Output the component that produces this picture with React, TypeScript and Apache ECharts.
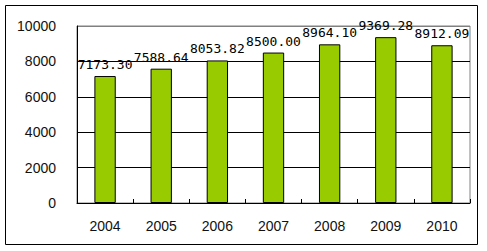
import React, { useEffect, useRef } from "react";
import * as echarts from "echarts";

const years = ["2004", "2005", "2006", "2007", "2008", "2009", "2010"];
const values = [7173.3, 7588.64, 8053.82, 8500.0, 8964.1, 9369.28, 8912.09];
const yTicks = { min: 0, max: 10000, interval: 2000 };

export default function App() {
  const ref = useRef<HTMLDivElement>(null);
  useEffect(() => {
    document.body.style.margin = "0";
    const chart = echarts.init(ref.current!, null, { renderer: "svg" });
    chart.setOption({
      animation: false,
      backgroundColor: "#ffffff",
      graphic: [
        {
          type: "rect",
          shape: { x: 5.5, y: 5.5, width: 472, height: 239 },
          style: { fill: "none", stroke: "#000", lineWidth: 1 },
          silent: true,
        },
      ],
      grid: {
        left: 77,
        right: 17,
        top: 26,
        bottom: 48,
        show: true,
        borderColor: "#808080",
        borderWidth: 1,
        backgroundColor: "transparent",
      },
      xAxis: {
        type: "category",
        data: years,
        boundaryGap: true,
        axisLine: { show: true, lineStyle: { color: "#000", width: 1 } },
        axisTick: { show: true, inside: true, length: 4, lineStyle: { color: "#000" } },
        axisLabel: {
          margin: 16,
          color: "#111",
          fontFamily: "Liberation Sans",
          fontSize: 14,
        },
      },
      yAxis: {
        type: "value",
        min: yTicks.min,
        max: yTicks.max,
        interval: yTicks.interval,
        axisLine: { show: true, lineStyle: { color: "#000", width: 1 } },
        axisTick: { show: false },
        splitLine: {
          show: true,
          lineStyle: {
            color: ["#000", "#000", "#000", "#000", "#000", "#808080"],
            width: 1,
          },
        },
        axisLabel: {
          margin: 21,
          color: "#111",
          fontFamily: "Liberation Sans",
          fontSize: 14,
          formatter: (v: number) => String(v),
        },
      },
      series: [
        {
          type: "bar",
          data: values,
          barWidth: "38%",
          itemStyle: { color: "#99cc00", borderColor: "#000", borderWidth: 1 },
          label: {
            show: true,
            position: "top",
            distance: 5,
            color: "#000",
            fontFamily: "DejaVu Sans Mono",
            fontSize: 13,
            formatter: (p: any) => Number(p.value).toFixed(2),
          },
        },
      ],
    });
    return () => chart.dispose();
  }, []);
  return <div ref={ref} style={{ width: 487, height: 251 }} />;
}
